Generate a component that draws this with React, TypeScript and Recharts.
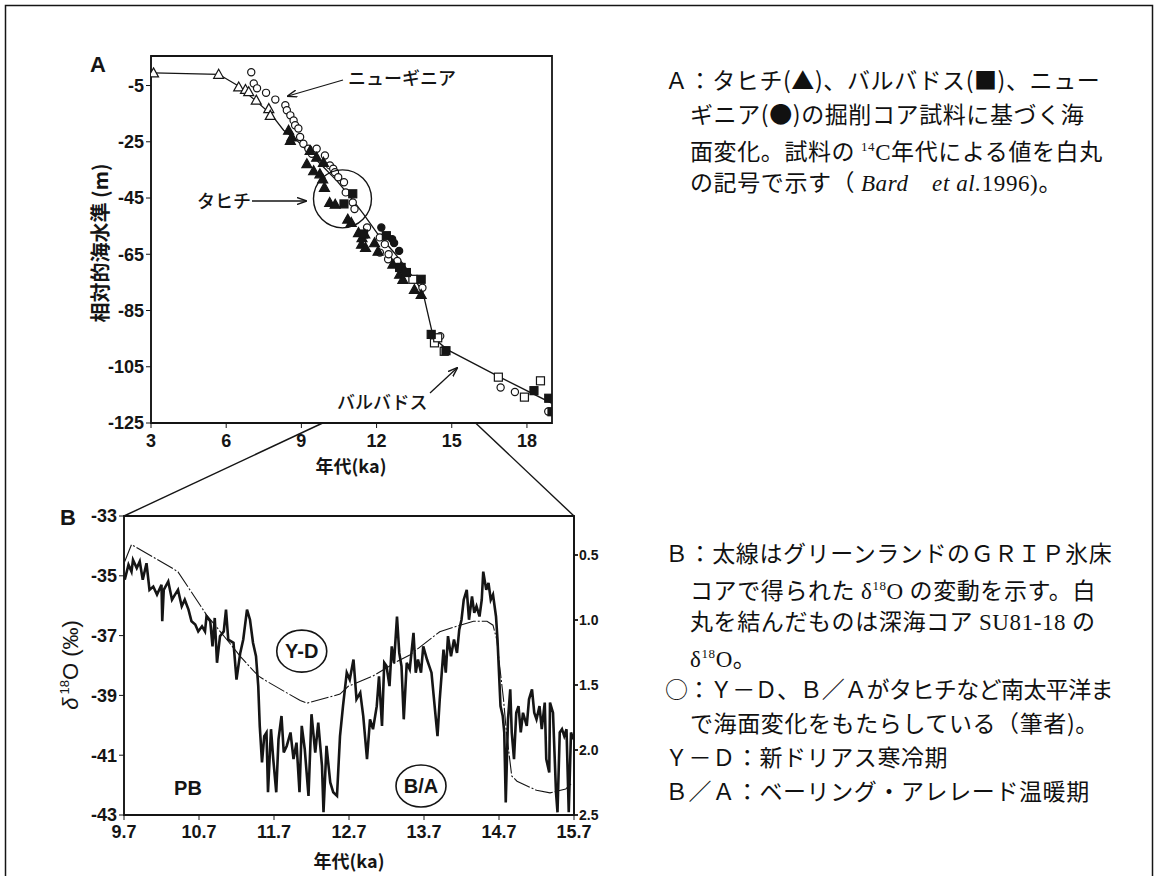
import React from "react";
import {
  ComposedChart,
  LineChart,
  Line,
  Scatter,
  XAxis,
  YAxis,
  ReferenceArea,
  ReferenceDot,
} from "recharts";

const AX = "'Liberation Sans Narrow', 'Liberation Sans', Arial, Helvetica, sans-serif";
const AXW = "'Liberation Sans', Arial, Helvetica, sans-serif";
const JP = "'Noto Sans CJK JP', 'Noto Sans CJK SC', sans-serif";
const SERIF = "'Liberation Serif', 'DejaVu Serif', serif";
const INK = "#151515";

// ---- panel A : sea level (m) vs age (ka) ----
const ageTicksA = [3, 6, 9, 12, 15, 18];
const levelTicksA = [-125, -105, -85, -65, -45, -25, -5];

const seaLevelCurve = [
  [3.1, -0.5], [5.7, -1], [6.44, -4.9], [7.23, -10.8], [7.83, -15.6], [8.29, -20.9],
  [8.82, -24.5], [9.35, -29.3], [9.88, -34], [10.41, -38.8], [10.9, -44], [11.48, -50.7],
  [12.05, -57.8], [12.76, -65], [13.47, -73.3], [13.85, -78.5], [14.27, -94.7],
  [14.82, -98.9], [16.92, -108.7], [19.0, -118],
];
const tahitiU = [
  [8.49, -20.9], [8.62, -23.3], [8.56, -24.5], [9.22, -32.8], [9.35, -28.1], [9.49, -35.3],
  [9.61, -30.5], [9.74, -36.4], [9.85, -38.2], [9.88, -32.3], [9.92, -41.2], [10.13, -46.6],
  [10.35, -47.2], [10.85, -52.5], [10.99, -53.7], [11.28, -57.3], [11.4, -61.4],
  [11.42, -59.1], [11.53, -57.8], [11.56, -62.6], [11.92, -60.9], [12.06, -63.9],
  [12.65, -68.5], [12.92, -72.1], [13.05, -73.9], [13.51, -77.5], [13.78, -79.3],
];
const tahiti14C = [
  [3.1, -0.5], [5.7, -1], [6.5, -5.5], [6.77, -6.4], [6.9, -7.2], [7.2, -10.2],
  [7.7, -13.2], [7.76, -15.6],
];
const barbadosU = [
  [10.7, -47.1], [11.05, -43.5], [11.48, -57.8], [12.39, -58.4], [12.92, -69.7],
  [12.98, -69.7], [13.19, -71.5], [13.78, -73.9], [14.18, -93.5], [14.77, -99.3],
  [18.28, -113.5], [18.87, -116.2], [19.0, -121],
];
const barbados14C = [
  [13.45, -73.9], [14.31, -96.5], [14.44, -94.7], [14.7, -99.5], [16.86, -108.7],
  [17.9, -115.8], [18.54, -110],
];
const newGuinea14C = [
  [7.0, -0.3], [7.1, -4.25], [7.23, -6.0], [7.59, -7.6], [7.96, -10.0], [8.36, -12],
  [8.42, -13.8], [8.56, -15.6], [8.69, -17.4], [8.75, -19.1], [8.88, -20.3], [8.95, -23.3],
  [9.08, -25.7], [9.28, -27.5], [9.42, -29.3], [9.61, -27.5], [9.94, -29.9], [10.14, -33.4],
  [10.27, -34.6], [10.34, -35.8], [10.47, -37.6], [10.7, -39.4], [10.77, -43], [11.05, -46.6],
  [11.12, -48.9], [11.62, -55.5], [12.13, -59], [12.33, -61.4], [12.13, -64.4],
  [12.46, -66.8], [12.48, -65], [12.83, -67.4], [13.47, -73.9], [13.83, -76.9],
  [14.4, -95.3], [14.54, -94.1], [16.95, -112.4], [17.52, -114], [18.85, -120.9],
];
const newGuineaU = [[12.19, -55.5], [12.62, -59.6], [12.7, -61], [12.9, -63.8]];

// ---- panel B : GRIP d18O and SU81-18 d18O vs age (ka) ----
const ageTicksB = [9.7, 10.7, 11.7, 12.7, 13.7, 14.7, 15.7];
const gripTicks = [-43, -41, -39, -37, -35, -33];
const coreTicks = [0.5, 1.0, 1.5, 2.0, 2.5];

const grip = [
  [9.71, -35.13], [9.76, -34.63], [9.8, -34.86], [9.82, -34.47], [9.87, -34.74], [9.91, -34.52],
  [9.95, -35.13], [10.0, -34.58], [10.04, -35.47], [10.09, -35.36], [10.14, -35.63], [10.2, -35.3],
  [10.21, -36.52], [10.23, -35.47], [10.29, -35.19], [10.34, -35.8], [10.38, -35.63],
  [10.42, -35.47], [10.47, -36.02], [10.51, -35.8], [10.56, -36.13], [10.6, -36.52],
  [10.65, -36.63], [10.69, -36.86], [10.74, -36.69], [10.78, -36.86], [10.8, -36.36],
  [10.85, -36.52], [10.88, -37.36], [10.91, -36.41], [10.94, -37.91], [10.98, -37.02],
  [11.03, -36.86], [11.06, -36.13], [11.09, -37.13], [11.16, -37.24], [11.2, -38.47],
  [11.25, -37.58], [11.29, -37.13], [11.34, -36.13], [11.38, -36.47], [11.42, -37.24],
  [11.46, -37.69], [11.49, -38.69], [11.51, -40.02], [11.54, -41.24], [11.57, -40.36],
  [11.6, -40.24], [11.62, -42.24], [11.66, -40.13], [11.69, -41.13], [11.73, -42.24],
  [11.76, -40.47], [11.8, -39.69], [11.83, -40.91], [11.87, -40.69], [11.92, -40.24],
  [11.96, -41.13], [12.0, -40.58], [12.04, -42.24], [12.07, -40.02], [12.11, -40.8],
  [12.16, -42.36], [12.2, -39.63], [12.25, -40.91], [12.29, -39.91], [12.34, -41.36],
  [12.36, -42.91], [12.4, -40.69], [12.45, -41.91], [12.49, -42.24], [12.54, -42.36],
  [12.58, -40.36], [12.62, -39.36], [12.67, -38.24], [12.71, -38.47], [12.76, -37.8],
  [12.8, -39.13], [12.85, -38.91], [12.89, -39.69], [12.94, -41.13], [12.98, -39.8],
  [13.02, -40.13], [13.07, -39.36], [13.1, -38.36], [13.14, -40.02], [13.17, -37.91],
  [13.2, -38.02], [13.24, -38.69], [13.27, -37.36], [13.3, -37.91], [13.34, -36.36],
  [13.37, -37.58], [13.4, -38.02], [13.43, -39.8], [13.47, -37.91], [13.51, -38.13],
  [13.56, -36.91], [13.59, -38.24], [13.62, -37.8], [13.66, -38.24], [13.69, -37.36],
  [13.74, -37.8], [13.77, -38.02], [13.8, -38.24], [13.85, -39.58], [13.88, -40.36],
  [13.91, -39.13], [13.96, -37.47], [13.99, -38.24], [14.02, -37.02], [14.06, -37.69],
  [14.1, -37.13], [14.14, -37.58], [14.17, -36.8], [14.2, -36.47], [14.23, -35.8],
  [14.27, -35.47], [14.3, -36.47], [14.34, -35.69], [14.37, -36.24], [14.4, -36.02],
  [14.44, -36.36], [14.47, -35.8], [14.49, -34.86], [14.53, -35.47], [14.56, -35.24],
  [14.59, -35.8], [14.62, -35.63], [14.66, -36.36], [14.68, -37.13], [14.7, -38.24],
  [14.72, -39.36], [14.75, -39.69], [14.77, -40.24], [14.79, -42.58], [14.82, -39.8],
  [14.85, -38.8], [14.87, -40.24], [14.9, -41.13], [14.93, -39.58], [14.96, -39.36],
  [14.99, -40.24], [15.02, -39.58], [15.07, -40.02], [15.1, -39.13], [15.14, -38.8],
  [15.17, -39.58], [15.2, -39.8], [15.24, -39.36], [15.27, -40.13], [15.31, -39.24],
  [15.33, -41.13], [15.37, -41.58], [15.38, -39.24], [15.42, -39.58], [15.46, -42.24],
  [15.48, -42.91], [15.51, -40.24], [15.54, -40.13], [15.57, -40.36], [15.6, -40.13],
  [15.63, -42.91], [15.66, -40.24], [15.69, -40.47],
];
const su8118 = [
  [9.71, 0.55], [9.8, 0.42], [10.34, 0.6], [10.42, 0.63], [10.8, 0.96], [11.07, 1.15],
  [11.25, 1.28], [11.49, 1.43], [11.6, 1.47], [12.05, 1.62], [12.14, 1.64], [12.58, 1.57],
  [12.69, 1.51], [13.02, 1.43], [13.34, 1.32], [13.51, 1.27], [13.82, 1.13], [13.91, 1.09],
  [14.18, 1.04], [14.36, 1.01], [14.54, 1.01], [14.62, 1.04], [14.67, 1.15], [14.71, 1.36],
  [14.76, 1.61], [14.8, 1.87], [14.87, 2.2], [14.94, 2.24], [15.2, 2.31], [15.38, 2.33],
  [15.59, 2.3], [15.66, 2.26],
];

const pts = (a: number[][]) => a.map(([x, y]) => ({ x, y }));

// plot frames on the page
const A_BOX = { left: 151, top: 56, width: 401, height: 367 };
const A_DOMAIN = [3, 19];
const B_BOX = { left: 124, top: 516, width: 450, height: 299 };

const tickFont = { fontFamily: AX, fontWeight: 700, fontSize: 18, fill: INK };

const tri = (filled: boolean) => (p: any) => {
  const { cx, cy } = p;
  const s = 5;
  return (
    <path
      d={`M${cx},${cy - s}L${cx + s},${cy + s * 0.8}L${cx - s},${cy + s * 0.8}Z`}
      fill={filled ? INK : "#fff"}
      stroke={INK}
      strokeWidth={1.2}
    />
  );
};
const sq = (filled: boolean) => (p: any) => (
  <rect x={p.cx - 4} y={p.cy - 4} width={8} height={8} fill={filled ? INK : "#fff"} stroke={INK} strokeWidth={1.2} />
);
const circ = (filled: boolean) => (p: any) => (
  <circle cx={p.cx} cy={p.cy} r={3.6} fill={filled ? INK : "#fff"} stroke={INK} strokeWidth={1.2} />
);

const ellipseLabel = (label: string) => (p: any) => (
  <g>
    <ellipse cx={p.cx} cy={p.cy} rx={25} ry={21} fill="#fff" stroke={INK} strokeWidth={1.6} />
    <text x={p.cx} y={p.cy + 7} textAnchor="middle" fontFamily={AXW} fontWeight={700} fontSize={20} fill={INK}>
      {label}
    </text>
  </g>
);

function PanelA() {
  return (
    <div style={{ position: "absolute", left: 0, top: 0 }}>
      <ComposedChart width={600} height={480} margin={{ top: 56, right: 48, left: 91, bottom: 27 }}>
        <XAxis
          type="number"
          dataKey="x"
          domain={A_DOMAIN}
          ticks={ageTicksA}
          allowDataOverflow
          height={30}
          tick={tickFont}
          tickSize={5}
          tickMargin={6}
          stroke={INK}
        />
        <YAxis
          type="number"
          dataKey="y"
          domain={[-125, 5.5]}
          ticks={levelTicksA}
          allowDataOverflow
          width={60}
          tick={tickFont}
          tickSize={5}
          tickMargin={2}
          stroke={INK}
        />
        <ReferenceArea x1={3} x2={19} y1={-125} y2={5.5} fill="none" stroke={INK} strokeWidth={1.8} />
        <Line data={pts(seaLevelCurve)} dataKey="y" type="linear" stroke={INK} strokeWidth={1.3} dot={false} isAnimationActive={false} />
        <Scatter data={pts(newGuinea14C)} shape={circ(false)} isAnimationActive={false} />
        <Scatter data={pts(tahiti14C)} shape={tri(false)} isAnimationActive={false} />
        <Scatter data={pts(barbados14C)} shape={sq(false)} isAnimationActive={false} />
        <Scatter data={pts(tahitiU)} shape={tri(true)} isAnimationActive={false} />
        <Scatter data={pts(barbadosU)} shape={sq(true)} isAnimationActive={false} />
        <Scatter data={pts(newGuineaU)} shape={circ(true)} isAnimationActive={false} />
        <ReferenceDot x={10.64} y={-45.3} r={29} fill="none" stroke={INK} strokeWidth={1.4} />
      </ComposedChart>
    </div>
  );
}

function PanelB() {
  return (
    <div style={{ position: "absolute", left: 0, top: 460 }}>
      <LineChart width={680} height={416} margin={{ top: 56, right: 56, left: 64, bottom: 31 }}>
        <XAxis
          type="number"
          dataKey="x"
          domain={[9.7, 15.7]}
          ticks={ageTicksB}
          allowDataOverflow
          height={30}
          tick={tickFont}
          tickSize={5}
          tickMargin={5}
          stroke={INK}
        />
        <YAxis
          yAxisId="l"
          type="number"
          domain={[-43, -33]}
          ticks={gripTicks}
          allowDataOverflow
          width={60}
          tick={tickFont}
          tickSize={5}
          tickMargin={2}
          stroke={INK}
        />
        <YAxis
          yAxisId="r"
          orientation="right"
          type="number"
          domain={[0.2, 2.5]}
          reversed
          ticks={coreTicks}
          allowDataOverflow
          width={50}
          tick={{ ...tickFont, fontSize: 14 }}
          tickFormatter={(v: number) => v.toFixed(1)}
          tickSize={4}
          tickMargin={1}
          stroke={INK}
          strokeWidth={1.8}
        />
        <ReferenceArea yAxisId="l" x1={9.7} x2={15.7} y1={-43} y2={-33} fill="none" stroke={INK} strokeWidth={1.8} />
        <Line yAxisId="r" data={pts(su8118)} dataKey="y" type="linear" stroke={INK} strokeWidth={1.1} strokeDasharray="18 2 2 2" dot={false} isAnimationActive={false} />
        <Line yAxisId="l" data={pts(grip)} dataKey="y" type="linear" stroke={INK} strokeWidth={2.6} dot={false} isAnimationActive={false} />
        <ReferenceDot yAxisId="l" x={12.07} y={-37.52} shape={ellipseLabel("Y-D")} />
        <ReferenceDot yAxisId="l" x={13.66} y={-42.03} shape={ellipseLabel("B/A")} />
      </LineChart>
    </div>
  );
}

// x position on the page of an age on panel A's axis
const axA = (age: number) => A_BOX.left + ((age - A_DOMAIN[0]) / (A_DOMAIN[1] - A_DOMAIN[0])) * A_BOX.width;

function Overlay() {
  const aBottom = A_BOX.top + A_BOX.height;
  return (
    <svg width={1159} height={876} style={{ position: "absolute", left: 0, top: 0, pointerEvents: "none" }}>
      <defs>
        <marker id="ah" markerWidth="10" markerHeight="8" refX="9" refY="4" orient="auto" markerUnits="userSpaceOnUse">
          <path d="M0,0.5 L10,4 L0,7.5" fill="none" stroke={INK} strokeWidth={1.4} />
        </marker>
      </defs>
      <rect x={5.5} y={5.5} width={1147} height={900} fill="none" stroke={INK} strokeWidth={1.5} />
      {/* zoom lines from panel A to panel B */}
      <line x1={axA(9.85)} y1={aBottom} x2={B_BOX.left} y2={B_BOX.top} stroke={INK} strokeWidth={1.4} />
      <line x1={axA(15.95)} y1={aBottom} x2={B_BOX.left + B_BOX.width} y2={B_BOX.top} stroke={INK} strokeWidth={1.4} />

      <text x={98} y={72} textAnchor="middle" fontFamily={AXW} fontWeight={700} fontSize={22} fill={INK}>A</text>
      <text x={68} y={525} textAnchor="middle" fontFamily={AXW} fontWeight={700} fontSize={22} fill={INK}>B</text>

      <text transform="translate(108,243) rotate(-90)" textAnchor="middle" fontFamily={JP} fontWeight={700} fontSize={20} fill={INK}>
        相対的海水準 (m)
      </text>
      <text x={351} y={473} textAnchor="middle" fontFamily={JP} fontWeight={700} fontSize={18} fill={INK}>年代(ka)</text>
      <text x={349} y={868} textAnchor="middle" fontFamily={JP} fontWeight={700} fontSize={18} fill={INK}>年代(ka)</text>

      <text transform="translate(78,665) rotate(-90)" textAnchor="middle" fontFamily={AXW} fontSize={22} fill={INK}>
        <tspan fontStyle="italic">δ</tspan>
        <tspan fontSize={13} dy={-9} dx={3}>18</tspan>
        <tspan dy={9}>O (‰)</tspan>
      </text>

      <text x={348} y={85} fontFamily={JP} fontWeight={500} fontSize={18} fill={INK}>ニューギニア</text>
      <line x1={343} y1={80} x2={288} y2={96} stroke={INK} strokeWidth={1.3} markerEnd="url(#ah)" />
      <text x={197} y={208} fontFamily={JP} fontWeight={500} fontSize={18} fill={INK}>タヒチ</text>
      <line x1={252} y1={201} x2={306} y2={201} stroke={INK} strokeWidth={1.3} markerEnd="url(#ah)" />
      <text x={337} y={409} fontFamily={JP} fontWeight={500} fontSize={18} fill={INK}>バルバドス</text>
      <line x1={430} y1={393} x2={457} y2={368} stroke={INK} strokeWidth={1.3} markerEnd="url(#ah)" />

      <text x={188} y={795} textAnchor="middle" fontFamily={AXW} fontWeight={700} fontSize={20} fill={INK}>PB</text>
    </svg>
  );
}

const lineStyle: React.CSSProperties = { position: "absolute", whiteSpace: "nowrap", height: 34, lineHeight: "34px" };
const sup: React.CSSProperties = { fontSize: 13, verticalAlign: 9, fontFamily: SERIF };
const lat: React.CSSProperties = { fontFamily: SERIF };

function Notes() {
  const A0 = 62;
  const B0 = 535;
  const L = 34;
  const x0 = 665;
  const x1 = 690;
  return (
    <div style={{ position: "absolute", left: 0, top: 0, fontFamily: JP, fontSize: 23, color: "#111", fontWeight: 400, letterSpacing: 0.6 }}>
      <div style={{ ...lineStyle, left: x0, top: A0 }}>Ａ：タヒチ(▲)、バルバドス(■)、ニュー</div>
      <div style={{ ...lineStyle, left: x1, top: A0 + L }}>ギニア(●)の掘削コア試料に基づく海</div>
      <div style={{ ...lineStyle, left: x1, top: A0 + 2 * L }}>
        面変化。試料の <span style={sup}>14</span><span style={lat}>C</span>年代による値を白丸
      </div>
      <div style={{ ...lineStyle, left: x1, top: A0 + 3 * L }}>
        の記号で示す（ <span style={lat}><i>Bard　et al.</i>1996)</span>。
      </div>

      <div style={{ ...lineStyle, left: x0, top: B0 }}>Ｂ：太線はグリーンランドのＧＲＩＰ氷床</div>
      <div style={{ ...lineStyle, left: x1, top: B0 + L }}>
        コアで得られた <span style={lat}>δ</span><span style={sup}>18</span><span style={lat}>O</span> の変動を示す。白
      </div>
      <div style={{ ...lineStyle, left: x1, top: B0 + 2 * L }}>
        丸を結んだものは深海コア <span style={lat}>SU81-18</span> の
      </div>
      <div style={{ ...lineStyle, left: x1, top: B0 + 3 * L }}>
        <span style={lat}>δ</span><span style={sup}>18</span><span style={lat}>O</span>。
      </div>
      <div style={{ ...lineStyle, left: x0, top: B0 + 4 * L, letterSpacing: -0.6 }}>○：Ｙ－Ｄ、Ｂ／Ａがタヒチなど南太平洋ま</div>
      <div style={{ ...lineStyle, left: x1, top: B0 + 5 * L }}>で海面変化をもたらしている（筆者)。</div>
      <div style={{ ...lineStyle, left: x0, top: B0 + 6 * L }}>Ｙ－Ｄ：新ドリアス寒冷期</div>
      <div style={{ ...lineStyle, left: x0, top: B0 + 7 * L }}>Ｂ／Ａ：ベーリング・アレレード温暖期</div>
    </div>
  );
}

export default function App() {
  return (
    <div style={{ position: "absolute", left: 0, top: 0, width: 1159, height: 876, background: "#fff", overflow: "hidden" }}>
      <PanelA />
      <PanelB />
      <Notes />
      <Overlay />
    </div>
  );
}
